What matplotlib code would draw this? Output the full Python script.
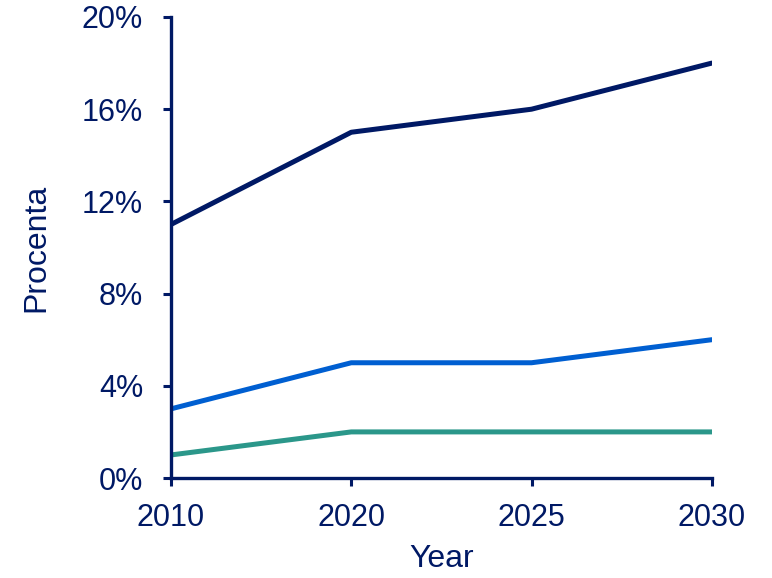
import matplotlib.pyplot as plt

years = ['2010', '2020', '2025', '2030']
series_top = [11, 15, 16, 18]
series_mid = [3, 5, 5, 6]
series_low = [1, 2, 2, 2]

navy = '#001965'
blue = '#005fd1'
teal = '#2b978a'

plt.rcParams['font.family'] = ['Liberation Sans', 'DejaVu Sans']

fig = plt.figure(figsize=(7.72, 5.78), dpi=100)
ax = fig.add_axes([0.2215, 0.173, 0.7005, 0.7976])

x = list(range(len(years)))
ax.plot(x, series_top, color=navy, lw=3.6, solid_capstyle='round')
ax.plot(x, series_mid, color=blue, lw=3.6, solid_capstyle='round')
ax.plot(x, series_low, color=teal, lw=3.6, solid_capstyle='round')

ax.set_xlim(0, 3)
ax.set_ylim(0, 20)
ax.set_xticks(x)
ax.set_xticklabels(years)
ax.set_yticks([0, 4, 8, 12, 16, 20])
ax.set_yticklabels(['0%', '4%', '8%', '12%', '16%', '20%'])

for s in ['top', 'right']:
    ax.spines[s].set_visible(False)
for s in ['left', 'bottom']:
    ax.spines[s].set_color(navy)
    ax.spines[s].set_linewidth(2.4)

ax.tick_params(colors=navy, labelsize=22, length=6, width=2.2)
ax.tick_params(axis='x', pad=12)
ax.tick_params(axis='y', pad=14)
ax.set_xlabel('Year', color=navy, fontsize=23, labelpad=8)
ax.set_ylabel('Procenta', color=navy, fontsize=23, labelpad=22)

fig.savefig('out.png', dpi=100)
